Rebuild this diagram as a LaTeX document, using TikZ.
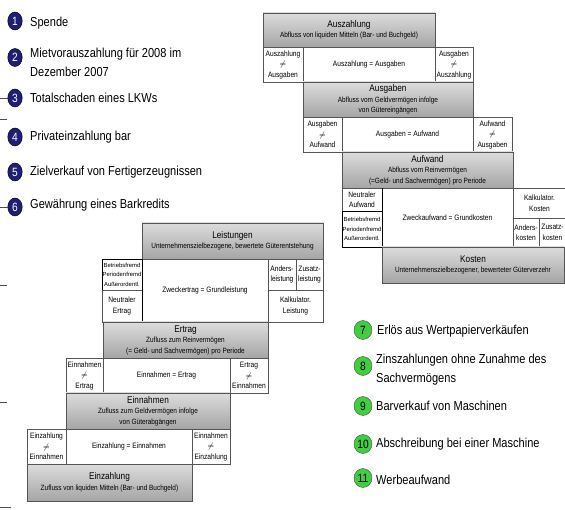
\documentclass[tikz,border=0pt]{standalone}
\usepackage{fontspec}
\setmainfont{Liberation Sans}[FakeStretch=0.85]
\newfontfamily\tinyface{Liberation Sans}
\usetikzlibrary{shapes.geometric}

\definecolor{boxtop}{RGB}{220,220,220}
\definecolor{boxbot}{RGB}{165,165,165}
\definecolor{rulegray}{RGB}{85,85,85}
\definecolor{navy}{RGB}{30,30,118}
\definecolor{leaf}{RGB}{64,205,64}

% rectangle from (x1,y1) to (x2,y2): name, x1, y1, x2, y2, style, text
\newcommand\fieldbox[7]{%
  \node[#6, minimum width={(#4-#2)*1pt}, minimum height={(#5-#3)*1pt}]
    (#1) at ({(#2+#4)/2},{(#3+#5)/2}) {#7};}
\newcommand\headline[1]{{\fontsize{9.7}{11}\selectfont #1}}
% two left-aligned lines, baseline at the first line
\newcommand\twolines[2]{\vtop{\baselineskip=19pt\hbox{#1}\hbox{#2}}}

\tikzset{
  cell/.style={draw=rulegray, line width=0.5pt, fill=white, inner sep=0pt,
    outer sep=0pt, align=center, font=\fontsize{7.8}{10.5}\selectfont},
  head/.style={cell, top color=boxtop, bottom color=boxbot,
    font=\fontsize{7.6}{10.5}\selectfont},
  tinycell/.style={cell, draw=black, line width=0.7pt,
    font=\tinyface\fontsize{5.9}{9.6}\selectfont},
  bluedot/.style={ellipse, draw=black, line width=0.4pt, fill=navy,
    minimum width=14.5pt, minimum height=18pt, inner sep=0pt,
    text=white, font=\fontsize{12}{12}\selectfont},
  greendot/.style={ellipse, draw=black!70, line width=0.4pt, fill=leaf,
    minimum width=18pt, minimum height=19pt, inner sep=0pt,
    text=black, font=\fontsize{12}{12}\selectfont},
  item/.style={anchor=base west, inner sep=0pt,
    font=\fontsize{13}{18}\selectfont},
  stub/.style={draw=black!70, line width=0.6pt}
}

\begin{document}
\begin{tikzpicture}[x=1pt, y=-1pt]
\useasboundingbox (0,0) rectangle (565,510);

% ---------- upper staircase: Auszahlung -> Kosten ----------
\fieldbox{aa}{263}{13}{435}{47}{head}{\headline{Auszahlung}\\Abfluss von liquiden Mitteln (Bar- und Buchgeld)}
\fieldbox{aaL}{263}{47}{303}{82}{cell}{Auszahlung\\$\neq$\\Ausgaben}
\fieldbox{aaM}{303}{47}{435}{82}{cell}{Auszahlung = Ausgaben}
\fieldbox{aaR}{435}{47}{473}{82}{cell}{Ausgaben\\$\neq$\\Auszahlung}

\fieldbox{ag}{303}{82}{473}{117}{head}{\headline{Ausgaben}\\Abfluss vom Geldvermögen infolge\\von Gütereingängen}
\fieldbox{agL}{303}{117}{342}{152}{cell}{Ausgaben\\$\neq$\\Aufwand}
\fieldbox{agM}{342}{117}{473}{152}{cell}{Ausgaben = Aufwand}
\fieldbox{agR}{473}{117}{512}{152}{cell}{Aufwand\\$\neq$\\Ausgaben}

\fieldbox{aw}{342}{152}{513}{188}{head}{\headline{Aufwand}\\Abfluss vom Reinvermögen\\(=Geld- und Sachvermögen) pro Periode}
\fieldbox{awN}{342}{188}{382}{211}{cell}{Neutraler\\Aufwand}
\fieldbox{awB}{342}{211}{382}{247}{tinycell}{Betriebsfremd\\Periodenfremd\\Außerordentl.}
\fieldbox{awM}{382}{188}{513}{247}{cell}{Zweckaufwand = Grundkosten}
\fieldbox{awK}{513}{188}{566}{218}{cell}{Kalkulator.\\Kosten}
\fieldbox{awA}{513}{218}{539}{247}{cell}{Anders-\\kosten}
\fieldbox{awZ}{539}{218}{566}{247}{cell}{Zusatz-\\kosten}
\draw[black, line width=0.8pt] (awM.north west) -- (awM.south west);

\fieldbox{ko}{382}{247}{564}{283}{head}{\headline{Kosten}\\Unternehmenszielbezogener, bewerteter Güterverzehr}

% ---------- lower staircase: Leistungen -> Einzahlung ----------
\fieldbox{le}{142}{223}{323}{259}{head}{\headline{Leistungen}\\Unternehmenszielbezogene, bewertete Güterentstehung}
\fieldbox{leB}{102}{259}{142}{290}{tinycell}{Betriebsfremd\\Periodenfremd\\Außerordentl.}
\fieldbox{leN}{102}{290}{142}{322}{cell}{Neutraler\\Ertrag}
\fieldbox{leM}{142}{259}{268}{322}{cell}{Zweckertrag = Grundleistung}
\fieldbox{leA}{268}{259}{296}{290}{cell}{Anders-\\leistung}
\fieldbox{leZ}{296}{259}{323}{290}{cell}{Zusatz-\\leistung}
\fieldbox{leK}{268}{290}{323}{322}{cell}{Kalkulator.\\Leistung}
\draw[black, line width=0.8pt] (leM.north west) -- (leM.south west);

\fieldbox{er}{103}{322}{268}{358}{head}{\headline{Ertrag}\\Zufluss zum Reinvermögen\\(= Geld- und Sachvermögen) pro Periode}
\fieldbox{erL}{66}{358}{103}{393}{cell}{Einnahmen\\$\neq$\\Ertrag}
\fieldbox{erM}{103}{358}{230}{393}{cell}{Einnahmen = Ertrag}
\fieldbox{erR}{230}{358}{268}{393}{cell}{Ertrag\\$\neq$\\Einnahmen}

\fieldbox{en}{66}{393}{230}{429}{head}{\headline{Einnahmen}\\Zufluss zum Geldvermögen infolge\\von Güterabgängen}
\fieldbox{enL}{27}{429}{66}{464}{cell}{Einzahlung\\$\neq$\\Einnahmen}
\fieldbox{enM}{66}{429}{192}{464}{cell}{Einzahlung = Einnahmen}
\fieldbox{enR}{192}{429}{230}{464}{cell}{Einnahmen\\$\neq$\\Einzahlung}

\fieldbox{ez}{27}{464}{192}{501}{head}{\headline{Einzahlung}\\Zufluss von liquiden Mitteln (Bar- und Buchgeld)}

% ---------- numbered cases 1-6 ----------
\node[bluedot] (n1) at (15,21) {1};
\node[item] (t1) at (30,26.5) {Spende};
\node[bluedot] (n2) at (15,57.5) {2};
\node[item] (t2) at (30,57.5) {\twolines{Mietvorauszahlung für 2008 im}{Dezember 2007}};
\node[bluedot] (n3) at (15,98) {3};
\node[item] (t3) at (30,102.5) {Totalschaden eines LKWs};
\node[bluedot] (n4) at (15,137) {4};
\node[item] (t4) at (30,141) {Privateinzahlung bar};
\node[bluedot] (n5) at (15,172) {5};
\node[item] (t5) at (30,176) {Zielverkauf von Fertigerzeugnissen};
\node[bluedot] (n6) at (15,207) {6};
\node[item] (t6) at (30,209) {Gewährung eines Barkredits};

% ---------- numbered cases 7-11 ----------
\node[greendot] (n7) at (363,330) {7};
\node[item] (t7) at (377,335) {Erlös aus Wertpapierverkäufen};
\node[greendot] (n8) at (363,366) {8};
\node[item] (t8) at (376,364) {\twolines{Zinszahlungen ohne Zunahme des}{Sachvermögens}};
\node[greendot] (n9) at (363,406) {9};
\node[item] (t9) at (376,411) {Barverkauf von Maschinen};
\node[greendot] (n10) at (363,444) {10};
\node[item] (t10) at (376,447) {Abschreibung bei einer Maschine};
\node[greendot] (n11) at (363,478) {11};
\node[item] (t11) at (376,484) {Werbeaufwand};

% ---------- short marks on the left margin ----------
\draw[stub] (0,98) -- (8,98);
\draw[stub] (0,119) -- (7,119);
\draw[stub] (0,207) -- (8,207);
\draw[stub] (0,285) -- (7,285);
\draw[stub] (0,402) -- (7,402);
\draw[stub] (0,507) -- (11,507);
\end{tikzpicture}
\end{document}
